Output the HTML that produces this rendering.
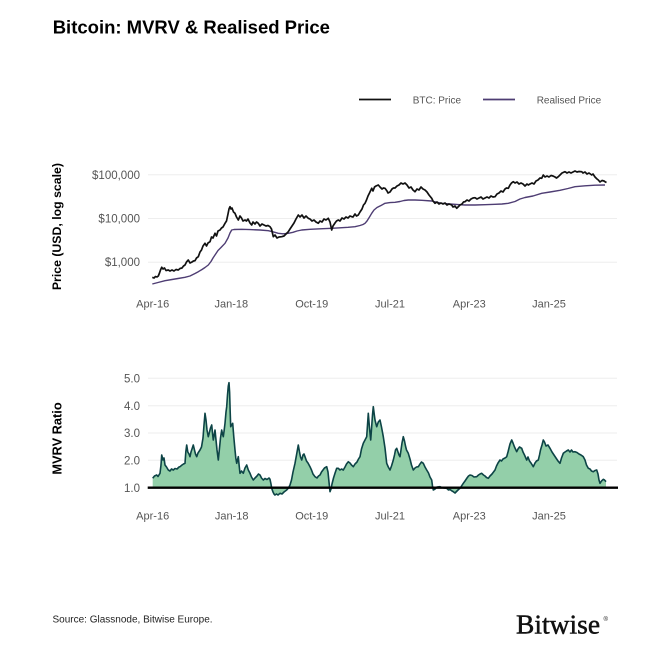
<!DOCTYPE html>
<html>
<head>
<meta charset="utf-8">
<style>
html,body{margin:0;padding:0;background:#fff;}
body{width:671px;height:671px;overflow:hidden;}
svg{display:block;}
text{font-family:"Liberation Sans",Arial,sans-serif;}
</style>
</head>
<body>
<svg width="671" height="671" viewBox="0 0 671 671" xmlns="http://www.w3.org/2000/svg">
<rect width="671" height="671" fill="#fff"/>
<!-- Title -->
<text x="52.7" y="33.3" font-size="18.5" font-weight="bold" fill="#000">Bitcoin: MVRV &amp; Realised Price</text>

<!-- Legend -->
<line x1="359" y1="99.5" x2="391" y2="99.5" stroke="#111" stroke-width="1.7"/>
<text x="412.7" y="103.5" font-size="10" fill="#555">BTC: Price</text>
<line x1="483" y1="99.5" x2="515" y2="99.5" stroke="#4e3d73" stroke-width="1.7"/>
<text x="536.7" y="103.5" font-size="10" fill="#555">Realised Price</text>

<!-- Upper chart gridlines -->
<g stroke="#eeeeee" stroke-width="1">
<line x1="148" y1="174.8" x2="617" y2="174.8"/>
<line x1="148" y1="218.5" x2="617" y2="218.5"/>
<line x1="148" y1="262.2" x2="617" y2="262.2"/>
</g>
<g font-size="11.5" fill="#555" text-anchor="end">
<text x="140" y="178.8">$100,000</text>
<text x="140" y="222.5">$10,000</text>
<text x="140" y="266.2">$1,000</text>
</g>
<text transform="translate(61,226.6) rotate(-90)" font-size="12.3" font-weight="bold" fill="#000" text-anchor="middle">Price (USD, log scale)</text>

<!-- Realised price -->
<path fill="none" stroke="#4e3d73" stroke-width="1.4" stroke-linejoin="round" d="M152.3,284 L158,282.5 L165,280.7 L172,279.5 L178,278.5 L185,277.3 L190,276 L195,273.5 L198.3,271.7 L202,269.5 L205,267.5 L208.3,265 L211,261.5 L213,258 L215,255 L218,250.5 L221,247.5 L225,243.3 L228,238 L230,233 L231.7,230 L234,229.5 L241.7,229.3 L250,229.6 L260,230 L268.3,230.7 L273,231.8 L278.3,233.3 L283,233.8 L288.3,233.3 L293,232.3 L297,231 L301.7,230 L310,229.3 L320,228.8 L331.7,228.3 L340,227.8 L348,227.3 L355,226.7 L360,225.5 L363,224.5 L365,223.3 L367,221 L369.5,217 L371.7,213.3 L374,210 L377,207.5 L381,205.5 L385,203.3 L390,202.6 L395,202.3 L400,201.5 L404,200.5 L408.3,200 L415,200 L422,200.3 L431.7,201 L436,202 L441.7,203.3 L450,204 L458,204.6 L465,205 L475,205 L485,204.7 L495,204.3 L502,204 L508.3,203.3 L515,201.5 L520,199 L525,197.5 L533,196 L541.7,193.3 L550,192 L560,190.3 L568,188.5 L575,186.7 L585,185.8 L595,185.2 L605,185"/>

<!-- BTC price -->
<path fill="none" stroke="#111" stroke-width="1.7" stroke-linejoin="round" d="M152.3,277.3 L154,278 L155.5,276.5 L157,277 L158.3,276 L159.5,273 L160.5,270 L161.7,267.3 L163,269 L164.5,268 L166,270.5 L168.3,270 L170,271 L172,270 L174,271 L176,269.5 L178.3,270 L180,268.5 L182,268 L183.5,266 L185,265 L186.5,262 L188.3,260 L190,263 L192,262 L193.5,261 L195,260.7 L196.5,258 L198.3,256.7 L200,252 L201.5,250 L203,246 L205,243.3 L206.5,246 L208,243 L210,241.7 L211.5,237 L213,238 L215,233.3 L216.5,236 L218,231 L220,230 L221.5,228 L223,227 L225,223.3 L226.5,221 L228,214 L229,209 L230,206.7 L231,209 L232,208 L233.5,212 L235,213.3 L236.5,217 L238.3,220 L240,216 L241.5,218 L243,221 L245,220 L246.5,221 L248,219 L250,223 L251.7,225 L253,222 L255,224 L256.5,222 L258.3,223.3 L260,226 L262,224 L264,225 L266,226 L268,225.5 L270,226.7 L271.5,229 L273.3,236.7 L275,235 L277,238 L279,237 L281.7,236.7 L284,236 L286,234 L288.3,231.7 L290,229 L292,226 L294,223 L296,219 L298.3,215 L300,217 L302,215 L304,218 L306,216 L308.3,218.3 L310,219 L312,221 L314,220 L316,222 L318.3,223.3 L320,221 L322,222 L324,219 L326,220 L328.3,218.3 L330,222 L331.7,230 L333,226 L335,223 L336.5,221 L338.3,220 L340,221 L342,218 L344,219 L346,217 L348,218 L350,216 L351.7,216.7 L353,217 L355,214 L356.5,216 L358.3,215 L360,212 L362,209 L363.5,205 L365,203.3 L366.5,200 L368,196 L369.5,193 L371.7,188.3 L373,191 L374.5,187 L376,186 L378.3,185 L380,187 L382,189 L383.5,188 L385,188.3 L387,191 L388,193 L390,192 L392,189 L393.5,188 L395,188 L397,186 L399,185 L401,183 L403,184 L405,183 L407,185 L409,188 L411,187 L413,190 L415,191.7 L417,189 L419,190 L421,187 L423,189 L425,190 L427,192 L429,195 L431.7,198.3 L433,201 L435,203.3 L437,202 L439,204 L441,203 L443,204 L445,203 L447,205 L449,204 L451.7,205 L453,207 L455,206 L456.7,208.3 L458,207 L460,205 L462,204 L463.5,202 L465,201.7 L467,200 L469,201 L471,199 L473,198 L475,197.7 L477,199 L479,198 L481,197 L483,199 L485,198 L487,197 L489,198 L491,196 L493,197 L495,196.7 L497,194 L499,193 L501,191 L503,192 L505,189 L506.5,188 L508.3,188.3 L510,185 L511.5,183 L513.3,181.7 L515,183 L517,182 L519,184 L521,183 L523,184 L525,186 L527,184 L528.3,185 L530,184 L532,183 L534,184 L536,181 L538,180 L540,178 L541.7,178.3 L543.3,175 L545,177 L547,176 L549,177 L551,175.5 L553,176 L555,177 L556.5,178 L558.3,176.7 L560,175 L562,173 L565,171.7 L567,173 L569,172 L571,173 L573,172 L575,171 L577,172 L579,171.5 L581.7,171.7 L583,173 L585,172 L587,174 L589,173 L591.7,175 L593,174 L595,177 L597,179 L598.3,180 L600,182 L602,180.5 L604,181 L605,181.7 L606.5,182.5"/>

<!-- Upper x labels -->
<g font-size="11" fill="#555" text-anchor="middle">
<text x="152.7" y="307.5">Apr-16</text>
<text x="231.3" y="307.5">Jan-18</text>
<text x="311.7" y="307.5">Oct-19</text>
<text x="390" y="307.5">Jul-21</text>
<text x="469.3" y="307.5">Apr-23</text>
<text x="549" y="307.5">Jan-25</text>
</g>

<!-- Lower chart gridlines -->
<g stroke="#eeeeee" stroke-width="1">
<line x1="148" y1="378.3" x2="617" y2="378.3"/>
<line x1="148" y1="405.7" x2="617" y2="405.7"/>
<line x1="148" y1="433" x2="617" y2="433"/>
<line x1="148" y1="460.3" x2="617" y2="460.3"/>
</g>
<g font-size="11.5" fill="#555" text-anchor="end">
<text x="140" y="382.5">5.0</text>
<text x="140" y="409.9">4.0</text>
<text x="140" y="437.2">3.0</text>
<text x="140" y="464.5">2.0</text>
<text x="140" y="491.9">1.0</text>
</g>
<text transform="translate(61.5,438.5) rotate(-90)" font-size="12.8" font-weight="bold" fill="#000" text-anchor="middle">MVRV Ratio</text>

<!-- MVRV area -->
<path fill="#93cfa9" stroke="none" d="M152.7,487.7 L152.7,478.3 L154.5,476 L156.7,475 L158,476.5 L160,473.3 L161,465 L161.7,455 L163,460 L164,458 L165,465 L166.5,467 L168.3,470 L170,471 L171.5,469 L173.3,470 L175,468.5 L177,469 L179,467 L180,466.7 L182,465 L183.5,464 L185,463.3 L185.8,452 L186.7,445 L187.8,452 L189,454 L190,456.7 L191,452 L192,449 L193.3,445 L194.5,450 L195.5,454 L196.7,456.7 L198,453 L200,450 L201.5,447 L203,438 L204,425 L205,413.3 L206,420 L207,430 L208.3,436.7 L209.5,432 L210.5,428 L211.7,425 L212.5,433 L213.3,440 L214,436 L215,430 L216,440 L217,450 L218.3,460 L219.5,448 L220.5,438 L221.7,430 L222.5,434 L223.3,436.7 L224.2,430 L225,423.3 L226,412 L226.7,406.7 L227.5,395 L228.3,386 L229,382.7 L229.6,392 L230.2,412 L230.7,426.7 L231.7,425 L232.7,423.3 L233.8,437 L235,450 L235.8,458 L236.7,463.3 L237.5,460 L238.3,456.7 L239.2,466 L240,473.3 L241.5,471 L243.3,473.3 L245,468 L246.7,465 L248.3,470 L250,473.3 L251.5,477 L253.3,480 L255,478 L257,476 L258.5,474 L260,475 L261.5,478 L263.3,480 L265,478.5 L267,479.5 L269,478 L270,479.3 L271,484 L271.7,488.3 L273,492 L274,494 L275,495 L276.5,494 L278,495 L280,493.3 L282,494 L284,492 L286.7,490 L288.5,488 L290,485 L291.5,480 L293,472 L295,463.3 L296.5,455 L298.3,445 L299.5,452 L300.5,457 L301.7,460 L303,455 L304,454 L305,456.7 L306.5,461 L308,463 L310,466.7 L311.5,470 L313,474 L315,476.7 L317,478 L318.5,476 L320,475 L321.5,472 L323,470 L324.5,468 L326.7,466.7 L328,472 L329,482 L330,491.7 L331,489 L332,484 L333.5,478 L335,473.3 L336.7,468.3 L338.3,468.3 L340,470 L341.5,469 L343.3,470 L345,467 L346.5,464 L348.3,461.7 L350,463 L351.5,465 L353.3,466.7 L355,464 L357,462 L358.5,459 L360,456.7 L361.5,449 L363.3,443.3 L365,440 L366.7,436.7 L367.5,425 L368.3,413.3 L369.5,428 L370.7,440 L371.8,425 L372.5,415 L373.3,406.7 L374.2,414 L375,420 L376,424 L376.7,426.7 L378.3,422 L380,420 L381.5,427 L383.3,436.7 L385,448 L386.7,463.3 L388.3,467 L390,470 L391.5,466 L393.3,460 L394.5,455 L395.5,450 L396.7,448.3 L398,452 L399,455 L400,456.7 L401,450 L402,443 L403.3,436.7 L404.5,441 L405.5,446 L406.5,450 L408.3,453.3 L410,459 L411.5,465 L413.3,470 L415,468 L416.5,467 L418.3,466.7 L420,464 L421.5,462 L423.3,463.3 L425,467 L426.7,470 L428.5,473 L430,477 L431.7,480 L432.5,486 L433.3,490 L435,489 L437,487 L440,486.7 L442,487.5 L444,488 L446.7,488.3 L448.5,490 L450,489.5 L452,491 L453.3,491.7 L455,493 L457,491 L458.5,489.5 L460,488.3 L461.5,486 L463.3,483.3 L465,481 L467,478 L468.5,476 L470,475 L472,475.5 L474,477 L476.7,476.7 L478.5,475 L480,474 L481.7,473.3 L483.5,475 L485,476 L486.5,477.5 L488.3,478.3 L490,476 L492,474 L493.5,472 L495,470 L496.5,466 L498,463 L500,460 L501.5,461 L503,459 L505,458 L506.7,456.7 L508,452 L509,448 L510,444 L511.7,440 L513,443 L514.5,447 L516.7,451.7 L518,449 L519.5,447 L521.7,448.3 L523,452 L524.5,455 L526.7,460 L528,457 L529.5,461 L531,463 L533.3,466.7 L535,463 L536.5,461 L538.3,460 L539.5,455 L540.5,450 L542,445 L543.3,440 L544.5,442 L546,446 L548,445 L550,448.3 L552,452 L554,455 L556,458 L558,461 L560,463.3 L561.5,458 L563.3,453.3 L565,452 L566.5,451 L568.3,450 L570,452 L571.5,450 L573,452 L575,451.7 L577,452.5 L579,454 L581,455 L583.3,456.7 L585,460 L586.5,465 L588.3,468.3 L590,469 L591.5,471 L593.3,471.7 L595,470.5 L596.7,470 L598,474 L599,480 L600,483.3 L601.5,481 L603.3,479.3 L604.5,480 L606,481.7 L606,487.7 Z"/>
<path fill="none" stroke="#0d4446" stroke-width="1.6" stroke-linejoin="round" d="M152.7,478.3 L154.5,476 L156.7,475 L158,476.5 L160,473.3 L161,465 L161.7,455 L163,460 L164,458 L165,465 L166.5,467 L168.3,470 L170,471 L171.5,469 L173.3,470 L175,468.5 L177,469 L179,467 L180,466.7 L182,465 L183.5,464 L185,463.3 L185.8,452 L186.7,445 L187.8,452 L189,454 L190,456.7 L191,452 L192,449 L193.3,445 L194.5,450 L195.5,454 L196.7,456.7 L198,453 L200,450 L201.5,447 L203,438 L204,425 L205,413.3 L206,420 L207,430 L208.3,436.7 L209.5,432 L210.5,428 L211.7,425 L212.5,433 L213.3,440 L214,436 L215,430 L216,440 L217,450 L218.3,460 L219.5,448 L220.5,438 L221.7,430 L222.5,434 L223.3,436.7 L224.2,430 L225,423.3 L226,412 L226.7,406.7 L227.5,395 L228.3,386 L229,382.7 L229.6,392 L230.2,412 L230.7,426.7 L231.7,425 L232.7,423.3 L233.8,437 L235,450 L235.8,458 L236.7,463.3 L237.5,460 L238.3,456.7 L239.2,466 L240,473.3 L241.5,471 L243.3,473.3 L245,468 L246.7,465 L248.3,470 L250,473.3 L251.5,477 L253.3,480 L255,478 L257,476 L258.5,474 L260,475 L261.5,478 L263.3,480 L265,478.5 L267,479.5 L269,478 L270,479.3 L271,484 L271.7,488.3 L273,492 L274,494 L275,495 L276.5,494 L278,495 L280,493.3 L282,494 L284,492 L286.7,490 L288.5,488 L290,485 L291.5,480 L293,472 L295,463.3 L296.5,455 L298.3,445 L299.5,452 L300.5,457 L301.7,460 L303,455 L304,454 L305,456.7 L306.5,461 L308,463 L310,466.7 L311.5,470 L313,474 L315,476.7 L317,478 L318.5,476 L320,475 L321.5,472 L323,470 L324.5,468 L326.7,466.7 L328,472 L329,482 L330,491.7 L331,489 L332,484 L333.5,478 L335,473.3 L336.7,468.3 L338.3,468.3 L340,470 L341.5,469 L343.3,470 L345,467 L346.5,464 L348.3,461.7 L350,463 L351.5,465 L353.3,466.7 L355,464 L357,462 L358.5,459 L360,456.7 L361.5,449 L363.3,443.3 L365,440 L366.7,436.7 L367.5,425 L368.3,413.3 L369.5,428 L370.7,440 L371.8,425 L372.5,415 L373.3,406.7 L374.2,414 L375,420 L376,424 L376.7,426.7 L378.3,422 L380,420 L381.5,427 L383.3,436.7 L385,448 L386.7,463.3 L388.3,467 L390,470 L391.5,466 L393.3,460 L394.5,455 L395.5,450 L396.7,448.3 L398,452 L399,455 L400,456.7 L401,450 L402,443 L403.3,436.7 L404.5,441 L405.5,446 L406.5,450 L408.3,453.3 L410,459 L411.5,465 L413.3,470 L415,468 L416.5,467 L418.3,466.7 L420,464 L421.5,462 L423.3,463.3 L425,467 L426.7,470 L428.5,473 L430,477 L431.7,480 L432.5,486 L433.3,490 L435,489 L437,487 L440,486.7 L442,487.5 L444,488 L446.7,488.3 L448.5,490 L450,489.5 L452,491 L453.3,491.7 L455,493 L457,491 L458.5,489.5 L460,488.3 L461.5,486 L463.3,483.3 L465,481 L467,478 L468.5,476 L470,475 L472,475.5 L474,477 L476.7,476.7 L478.5,475 L480,474 L481.7,473.3 L483.5,475 L485,476 L486.5,477.5 L488.3,478.3 L490,476 L492,474 L493.5,472 L495,470 L496.5,466 L498,463 L500,460 L501.5,461 L503,459 L505,458 L506.7,456.7 L508,452 L509,448 L510,444 L511.7,440 L513,443 L514.5,447 L516.7,451.7 L518,449 L519.5,447 L521.7,448.3 L523,452 L524.5,455 L526.7,460 L528,457 L529.5,461 L531,463 L533.3,466.7 L535,463 L536.5,461 L538.3,460 L539.5,455 L540.5,450 L542,445 L543.3,440 L544.5,442 L546,446 L548,445 L550,448.3 L552,452 L554,455 L556,458 L558,461 L560,463.3 L561.5,458 L563.3,453.3 L565,452 L566.5,451 L568.3,450 L570,452 L571.5,450 L573,452 L575,451.7 L577,452.5 L579,454 L581,455 L583.3,456.7 L585,460 L586.5,465 L588.3,468.3 L590,469 L591.5,471 L593.3,471.7 L595,470.5 L596.7,470 L598,474 L599,480 L600,483.3 L601.5,481 L603.3,479.3 L604.5,480 L606,481.7"/>

<!-- Baseline at 1.0 -->
<line x1="147.7" y1="487.7" x2="618" y2="487.7" stroke="#000" stroke-width="2.4"/>

<!-- Lower x labels -->
<g font-size="11" fill="#555" text-anchor="middle">
<text x="152.7" y="519.5">Apr-16</text>
<text x="231.7" y="519.5">Jan-18</text>
<text x="311.7" y="519.5">Oct-19</text>
<text x="390" y="519.5">Jul-21</text>
<text x="469.3" y="519.5">Apr-23</text>
<text x="549" y="519.5">Jan-25</text>
</g>

<!-- Footer -->
<text x="52.5" y="622.5" font-size="10" fill="#222">Source: Glassnode, Bitwise Europe.</text>
<text x="516" y="633.3" font-size="27.5" fill="#111" stroke="#111" stroke-width="0.5" style="font-family:'Liberation Serif','Times New Roman',serif;">Bitwise</text>
<text x="603.5" y="621" font-size="6" fill="#111">®</text>
</svg>
</body>
</html>
